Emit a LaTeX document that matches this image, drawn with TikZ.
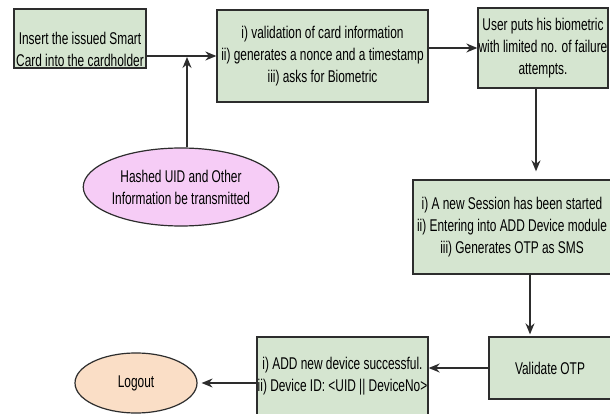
\documentclass[tikz,border=0pt]{standalone}
\usepackage{fontspec}
\setmainfont{Liberation Sans}[FakeStretch=0.70]
\usetikzlibrary{arrows.meta,shapes.geometric}
\definecolor{boxgreen}{RGB}{213,229,208}
\definecolor{pinkfill}{RGB}{246,204,246}
\definecolor{peach}{RGB}{250,222,198}
\definecolor{edge}{RGB}{45,45,45}
\tikzset{
  stepbox/.style={draw=edge, line width=1.3pt, fill=boxgreen, rectangle, inner sep=0pt, align=center, font=\fontsize{17}{22}\selectfont},
  txt/.style={inner sep=0pt, align=center, font=\fontsize{17}{22}\selectfont},
  oval/.style={draw=edge, line width=1.2pt, ellipse, inner sep=0pt, align=center, font=\fontsize{17}{22}\selectfont},
  arr/.style={draw=edge, line width=1.4pt, -{Stealth[length=11pt,width=9pt]}}
}
\begin{document}
\begin{tikzpicture}[x=1pt,y=-1pt]
\useasboundingbox[fill=white] (0,0) rectangle (610,414);
% boxes
\node[stepbox, minimum width=132pt, minimum height=59pt] (b1) at (80,38.5) {};
\node[txt] (b1t) at (80,49) {Insert the issued Smart\\Card into the cardholder};
\node[stepbox, minimum width=211pt, minimum height=92pt] (b2) at (322.5,56)
  {i) validation of card information\\ii) generates a nonce and a timestamp\\iii) asks for Biometric};
\node[stepbox, minimum width=130pt, minimum height=80pt] (b3) at (543,48)
  {User puts his biometric\\with limited no. of failure\\attempts.};
\node[stepbox, minimum width=198pt, minimum height=94pt] (b4) at (512,227)
  {i) A new Session has been started\\ii) Entering into ADD Device module\\iii) Generates OTP as SMS};
\node[stepbox, minimum width=122pt, minimum height=62pt] (b5) at (550,368) {Validate OTP};
\node[stepbox, minimum width=171pt, minimum height=78pt] (b6) at (342.5,376)
  {i) ADD new device successful.\\ii) Device ID: <UID || DeviceNo>};
\node[oval, fill=pinkfill, minimum width=152pt, minimum height=78pt] (e1) at (181,187)
  {Hashed UID and Other\\Information be transmitted};
\node[oval, fill=peach, minimum width=122pt, minimum height=60pt] (lo) at (136,383) {Logout};
% connectors
\coordinate (j) at (187,57);
\coordinate (c34) at (536,0);
\coordinate (c45) at (530,0);
\draw[arr] (b1.east |- b2.west) -- (b2.west);
\draw[arr] (e1.north -| j) -- (j);
\draw[arr] (b2.east |- b3.west) -- (b3.west);
\draw[arr, shorten >=8pt] (b3.south -| c34) -- (b4.north -| c34);
\draw[arr, shorten >=2pt] (b4.south -| c45) -- (b5.north -| c45);
\draw[arr] (b5.west) -- (b6.east |- b5.west);
\draw[arr, shorten >=4pt] (b6.west |- lo.east) -- (lo.east);
\end{tikzpicture}
\end{document}
